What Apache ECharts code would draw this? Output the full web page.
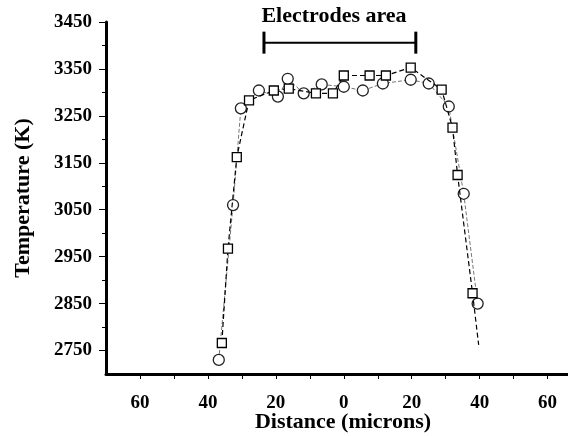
<!DOCTYPE html>
<html>
<head>
<meta charset="utf-8">
<script src="https://cdn.jsdelivr.net/npm/echarts@6/dist/echarts.min.js"></script>
<style>
  html, body { margin: 0; padding: 0; background: #fff; }
  #chart { width: 568px; height: 436px; }
</style>
</head>
<body>
<div id="chart"></div>
<script>
// values (x in microns, y in K)
var circlePts = [
  [-36.8, 2730], [-32.6, 3060], [-30.3, 3266], [-25, 3304], [-19.4, 3291],
  [-16.5, 3329], [-11.8, 3298], [-6.5, 3317], [0, 3312], [5.6, 3304],
  [11.5, 3319], [19.7, 3327], [25, 3319], [30.9, 3270], [35.3, 3084], [39.4, 2850]
];
var squarePts = [
  [-35.9, 2766], [-34.1, 2967], [-31.5, 3162], [-27.9, 3283], [-20.6, 3304],
  [-16.2, 3308], [-8.2, 3298], [-3.2, 3298], [0, 3336], [7.6, 3336],
  [12.4, 3336], [19.7, 3353], [28.8, 3306], [32, 3225], [33.5, 3124], [37.9, 2872]
];
var squareTail = [39.7, 2762]; // where the dashed line runs out, no marker
var electrodes = [[-23.5, 3406], [21.2, 3406]];

var yMajor = [2750, 2850, 2950, 3050, 3150, 3250, 3350, 3450];
var yMinor = [2800, 2900, 3000, 3100, 3200, 3300, 3400];
var xTicks = [-60, -50, -40, -30, -20, -10, 0, 10, 20, 30, 40, 50, 60];
var xLabels = [-60, -40, -20, 0, 20, 40, 60];

var font = "Liberation Serif";
var chart = echarts.init(document.getElementById("chart"));

chart.setOption({
  animation: false,
  grid: { left: 106, right: 0, top: 22, bottom: 62, outerBoundsMode: "none", containLabel: false },
  graphic: [{
    type: "text",
    x: 334,
    y: 16,
    style: {
      text: "Electrodes area", font: "bold 22px " + font, fill: "#000",
      textAlign: "center", textVerticalAlign: "middle"
    }
  }],
  xAxis: {
    type: "value",
    min: -70,
    max: 66,
    name: "Distance (microns)",
    nameLocation: "middle",
    nameGap: 37,
    nameMoveOverlap: false,
    nameTextStyle: { fontFamily: font, fontWeight: "bold", fontSize: 22, color: "#000", padding: [0, 0, 0, 12] },
    axisLine: { onZero: false, lineStyle: { color: "#000", width: 3 } },
    axisTick: { customValues: xTicks, length: 5, lineStyle: { color: "#000", width: 1 } },
    axisLabel: {
      customValues: xLabels,
      margin: 20,
      fontFamily: font, fontWeight: "bold", fontSize: 19, color: "#000",
      formatter: function (v) { return String(Math.abs(v)); }
    },
    splitLine: { show: false }
  },
  yAxis: [{
    type: "value",
    min: 2700,
    max: 3450,
    name: "Temperature (K)",
    nameLocation: "middle",
    nameGap: 72,
    nameMoveOverlap: false,
    nameTextStyle: { fontFamily: font, fontWeight: "bold", fontSize: 22, color: "#000" },
    axisLine: { show: true, onZero: false, lineStyle: { color: "#000", width: 3 } },
    axisTick: { customValues: yMajor, length: 7, lineStyle: { color: "#000", width: 1 } },
    axisLabel: {
      customValues: yMajor,
      margin: 14,
      fontFamily: font, fontWeight: "bold", fontSize: 19, color: "#000",
      formatter: function (v) { return String(v); }
    },
    splitLine: { show: false }
  }, {
    type: "value",
    min: 2700,
    max: 3450,
    position: "left",
    axisLine: { show: false, onZero: false },
    axisTick: { show: true, customValues: yMinor, length: 4, lineStyle: { color: "#000", width: 1 } },
    axisLabel: { show: false },
    splitLine: { show: false }
  }],
  series: [{
    name: "circles",
    type: "line",
    data: circlePts,
    symbol: "circle",
    symbolSize: 11,
    itemStyle: { color: "#fff", borderColor: "#222", borderWidth: 1.3 },
    lineStyle: { color: "#777", width: 1, type: [4, 2] },
    z: 3
  }, {
    name: "squares",
    type: "line",
    data: squarePts.concat([{ value: squareTail, symbol: "none" }]),
    symbol: "rect",
    symbolSize: 9,
    itemStyle: { color: "#fff", borderColor: "#000", borderWidth: 1.3 },
    lineStyle: { color: "#000", width: 1.2, type: [5, 3] },
    z: 4
  }, {
    name: "electrodes",
    type: "line",
    data: electrodes,
    symbol: "rect",
    symbolSize: [3, 22],
    itemStyle: { color: "#000" },
    lineStyle: { color: "#000", width: 2 },
    silent: true
  }]
});
</script>
</body>
</html>
